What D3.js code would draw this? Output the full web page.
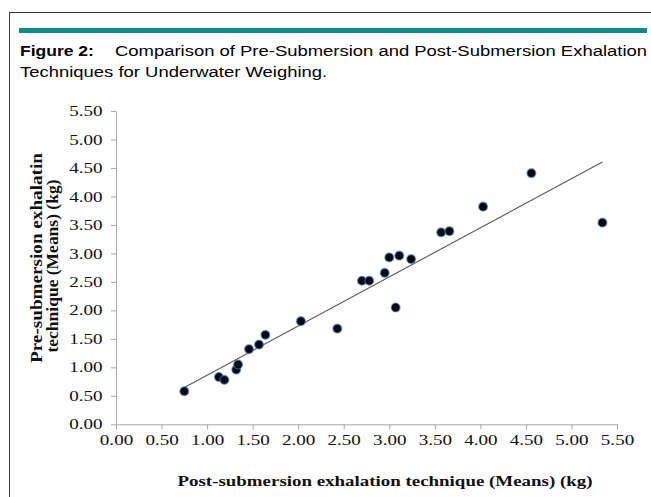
<!DOCTYPE html>
<html>
<head>
<meta charset="utf-8">
<script src="https://cdn.jsdelivr.net/npm/d3@7"></script>
<style>
  body { margin: 0; background: #fff; }
  svg { display: block; }
</style>
</head>
<body>
<div id="chart"></div>
<script>
// data (kg means)
const postMeans = [0.75, 1.13, 1.19, 1.32, 1.34, 1.46, 1.57, 1.64, 2.03, 2.43, 2.70, 2.78, 2.95, 3.00, 3.07, 3.11, 3.24, 3.57, 3.66, 4.03, 4.56, 5.34];
const preMeans = [0.58, 0.83, 0.78, 0.96, 1.05, 1.32, 1.40, 1.57, 1.81, 1.68, 2.52, 2.52, 2.66, 2.93, 2.05, 2.96, 2.90, 3.37, 3.39, 3.82, 4.41, 3.54];
const tickValues = [0, 0.5, 1, 1.5, 2, 2.5, 3, 3.5, 4, 4.5, 5, 5.5];
const captionBold = "Figure 2:";
const captionLines = ["Comparison of Pre-Submersion and Post-Submersion Exhalation", "Techniques for Underwater Weighing."];
const xTitle = "Post-submersion exhalation technique (Means) (kg)";
const yTitle = ["Pre-submersion exhalatin", "technique (Means) (kg)"];

const W = 651, H = 497;
const serif = "'Liberation Serif', 'Times New Roman', serif";
const sans = "'Liberation Sans', Arial, sans-serif";

const svg = d3.select("#chart").append("svg")
    .attr("width", W)
    .attr("height", H);

// stretch text horizontally (the figure is wider than it is tall)
function stretch(sel, k) {
    sel.each(function () {
        const w = this.getComputedTextLength();
        d3.select(this).attr("textLength", w * k).attr("lengthAdjust", "spacingAndGlyphs");
    });
}

// frame + teal rule
svg.append("rect")
    .attr("x", 9.5).attr("y", 12.5)
    .attr("width", 700).attr("height", 600)
    .attr("fill", "none")
    .attr("stroke", "#3a3a3a")
    .attr("stroke-width", 1);

svg.append("rect")
    .attr("x", 19).attr("y", 28)
    .attr("width", 628).attr("height", 5)
    .attr("fill", "#14898b");

// caption
const capK = 1.25;
const c1 = svg.append("text")
    .attr("x", 20).attr("y", 56)
    .style("font-family", sans).style("font-size", "14px").style("font-weight", "bold")
    .text(captionBold);
stretch(c1, capK);

const c2 = svg.append("text")
    .attr("x", 115).attr("y", 56)
    .style("font-family", sans).style("font-size", "14px")
    .text(captionLines[0]);
const natural = c2.node().getComputedTextLength();
const k2 = 532 / natural;
stretch(c2, k2);

const c3 = svg.append("text")
    .attr("x", 20).attr("y", 77)
    .style("font-family", sans).style("font-size", "14px")
    .text(captionLines[1]);
stretch(c3, k2);

// scales
const x = d3.scaleLinear().domain([0, 5.5]).range([116, 617]);
const y = d3.scaleLinear().domain([0, 5.5]).range([424.3, 111]);

const fmt = d3.format(".2f");

const xAxis = svg.append("g")
    .attr("transform", "translate(0," + y(0) + ")")
    .call(d3.axisBottom(x).tickValues(tickValues).tickFormat(fmt).tickSize(5).tickSizeOuter(0));

const yAxis = svg.append("g")
    .attr("transform", "translate(" + x(0) + ",0)")
    .call(d3.axisLeft(y).tickValues(tickValues).tickFormat(fmt).tickSize(5).tickSizeOuter(0));

[xAxis, yAxis].forEach(function (g) {
    g.select(".domain").attr("stroke", "#a8a8a8");
    g.selectAll(".tick line").attr("stroke", "#a8a8a8");
    g.selectAll(".tick text")
        .attr("fill", "#111")
        .style("font-family", serif)
        .style("font-size", "14px");
});
xAxis.selectAll(".tick text").attr("y", 0).attr("dy", "1.14em").attr("dy", null).attr("y", 20.5);
yAxis.selectAll(".tick text").attr("x", -13.5).attr("dy", "0.33em");
stretch(xAxis.selectAll(".tick text"), 1.36);
stretch(yAxis.selectAll(".tick text"), 1.36);

// trend line (least squares through the points)
const mx = d3.mean(postMeans), my = d3.mean(preMeans);
let sxy = 0, sxx = 0;
postMeans.forEach(function (v, i) {
    sxy += (v - mx) * (preMeans[i] - my);
    sxx += (v - mx) * (v - mx);
});
const slope = sxy / sxx;
const icpt = my - slope * mx;
const xr = d3.extent(postMeans);

svg.append("line")
    .attr("x1", x(xr[0])).attr("y1", y(icpt + slope * xr[0]))
    .attr("x2", x(xr[1])).attr("y2", y(icpt + slope * xr[1]))
    .attr("stroke", "#5a5a5a")
    .attr("stroke-width", 1.1);

// points
svg.selectAll("circle.pt")
    .data(postMeans)
    .enter().append("circle")
    .attr("class", "pt")
    .attr("cx", function (d) { return x(d); })
    .attr("cy", function (d, i) { return y(preMeans[i]); })
    .attr("r", 4.4)
    .attr("fill", "#080814")
    .attr("stroke", "#4f80c0")
    .attr("stroke-opacity", 0.6)
    .attr("stroke-width", 1.4);

// axis titles
const xt = svg.append("text")
    .attr("x", 385).attr("y", 486)
    .attr("text-anchor", "middle")
    .style("font-family", serif).style("font-size", "15px").style("font-weight", "bold")
    .attr("fill", "#111")
    .text(xTitle);
xt.attr("textLength", 415).attr("lengthAdjust", "spacingAndGlyphs");

const yLens = [210, 173];
const yBase = [41.5, 57.5];
const yMid = [258, 266];
yTitle.forEach(function (t, i) {
    svg.append("text")
        .attr("transform", "translate(" + yBase[i] + "," + yMid[i] + ") rotate(-90)")
        .attr("text-anchor", "middle")
        .style("font-family", serif).style("font-size", "16px").style("font-weight", "bold")
        .attr("fill", "#111")
        .attr("textLength", yLens[i])
        .attr("lengthAdjust", "spacingAndGlyphs")
        .text(t);
});
</script>
</body>
</html>
